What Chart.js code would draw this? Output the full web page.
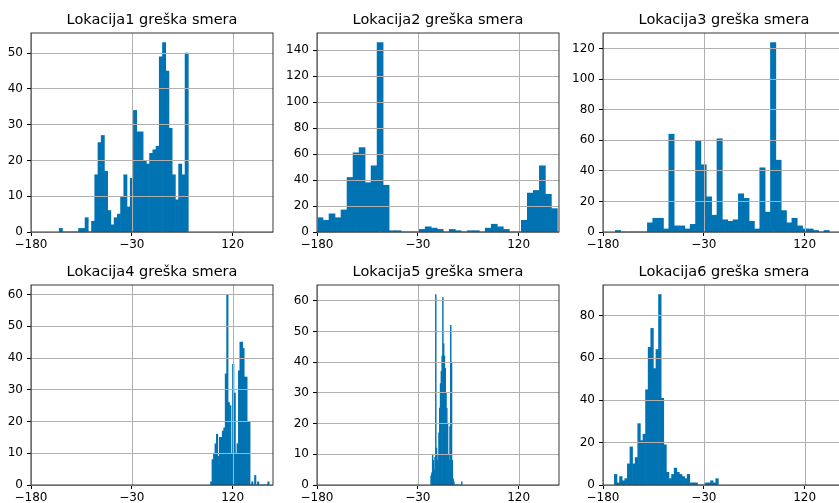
<!DOCTYPE html>
<html>
<head>
<meta charset="utf-8">
<script src="https://cdn.jsdelivr.net/npm/chart.js@4.4.1/dist/chart.umd.min.js"></script>
<style>
  body { margin: 0; width: 839px; height: 503px; overflow: hidden; background: #fff; position: relative; }
  canvas { position: absolute; }
</style>
</head>
<body>
<canvas id="c1" width="304" height="255" style="left:0px;top:0px"></canvas>
<canvas id="c2" width="304" height="255" style="left:286px;top:0px"></canvas>
<canvas id="c3" width="304" height="255" style="left:572px;top:0px"></canvas>
<canvas id="c4" width="304" height="256" style="left:0px;top:252px"></canvas>
<canvas id="c5" width="304" height="256" style="left:286px;top:252px"></canvas>
<canvas id="c6" width="304" height="256" style="left:572px;top:252px"></canvas>
<script>
// histogram counts per location (40 bins each)
const lok1Counts = [1, 0, 0, 0, 0, 0, 1, 1, 4, 0, 3, 16, 25, 27, 17, 6, 2, 4, 5, 10,
                    16, 7, 15, 34, 28, 28, 20, 19, 22, 23, 24, 49, 53, 45, 29, 16, 9, 19, 16, 50];
const lok2Counts = [11, 9, 14, 11, 17, 42, 61, 65, 38, 51, 146, 36, 1, 1, 0, 0, 0, 2, 4, 3,
                    2, 0, 2, 1, 0, 1, 1, 0, 3, 6, 4, 2, 0, 0, 9, 30, 32, 51, 29, 18];
const lok3Counts = [1, 0, 0, 0, 0, 0, 6, 9, 9, 2, 64, 4, 4, 2, 5, 60, 44, 23, 11, 61,
                    8, 7, 8, 25, 22, 7, 2, 42, 13, 124, 47, 14, 6, 9, 4, 2, 2, 1, 0, 1];
const lok4Counts = [1, 8, 10, 13, 16, 9, 15, 15, 17, 18, 35, 60, 26, 25, 10, 38, 29, 10, 13, 36,
                    45, 45, 43, 34, 34, 20, 20, 0, 1, 0, 3, 0, 1, 0, 0, 0, 0, 0, 0, 1];
const lok5Counts = [3, 4, 10, 8, 5, 9, 62, 12, 8, 10, 17, 25, 33, 37, 42, 61, 46, 42, 38, 30,
                    25, 20, 10, 8, 19, 52, 40, 8, 2, 1, 0, 0, 0, 0, 0, 0, 0, 0, 0, 1];
const lok6Counts = [5, 1, 4, 2, 3, 10, 18, 10, 13, 29, 21, 24, 45, 65, 74, 55, 64, 90, 41, 19,
                    6, 3, 5, 8, 6, 5, 4, 3, 5, 1, 1, 1, 0, 0, 0, 1, 1, 2, 1, 3];

// data range (min, max) each histogram was binned over
const lok1Range = [-138, 54];
const lok2Range = [-180, 177.6];
const lok3Range = [-161.7, 156.7];
const lok4Range = [87, 174.3];
const lok5Range = [-10.9, 36];
const lok6Range = [-163.1, -8.4];

const titles = ['Lokacija1 greška smera', 'Lokacija2 greška smera', 'Lokacija3 greška smera',
                'Lokacija4 greška smera', 'Lokacija5 greška smera', 'Lokacija6 greška smera'];

const xTicks = [-180, -30, 120];
const yTicks1 = [0, 10, 20, 30, 40, 50];
const yTicks2 = [0, 20, 40, 60, 80, 100, 120, 140];
const yTicks3 = [0, 20, 40, 60, 80, 100, 120];
const yTicks4 = [0, 10, 20, 30, 40, 50, 60];
const yTicks5 = [0, 10, 20, 30, 40, 50, 60];
const yTicks6 = [0, 20, 40, 60, 80];

const BAR_COLOR = '#0173B2';
const GRID = '#b0b0b0';

Chart.defaults.font.family = "'DejaVu Sans', sans-serif";

// matplotlib style minus sign
const fmt = v => String(v).replace('-', '\u2212');

// vertical grid lines at the x ticks (above the bars), then the box around the axes
const frame = {
  id: 'frame',
  afterDatasetsDraw(chart) {
    const a = chart.chartArea, c = chart.ctx, xs = chart.scales.x;
    c.save();
    c.strokeStyle = GRID;
    c.lineWidth = 1;
    xs.ticks.forEach(t => {
      const px = Math.round(xs.getPixelForValue(t.value)) + 0.5;
      c.beginPath();
      c.moveTo(px, a.top);
      c.lineTo(px, a.bottom);
      c.stroke();
    });
    c.restore();
  },
  afterDraw(chart) {
    const a = chart.chartArea, c = chart.ctx;
    c.save();
    c.strokeStyle = '#222';
    c.lineWidth = 0.9;
    c.strokeRect(a.left, a.top, a.right - a.left, a.bottom - a.top);
    c.restore();
  }
};

function makeHist(id, title, counts, range, yTicks) {
  const w = (range[1] - range[0]) / counts.length;
  const points = counts.map((c, i) => ({ x: range[0] + w * (i + 0.5), y: c }));
  const ymax = Math.max(...counts) * 1.05;

  new Chart(document.getElementById(id), {
    type: 'bar',
    data: {
      datasets: [{
        data: points,
        backgroundColor: BAR_COLOR,
        borderWidth: 0,
        barPercentage: 1,
        categoryPercentage: 1
      }]
    },
    options: {
      responsive: false,
      animation: false,
      layout: { padding: { left: 0, right: 0, top: 0, bottom: 3 } },
      plugins: {
        legend: { display: false },
        tooltip: { enabled: false },
        title: {
          display: true,
          text: title,
          color: '#000',
          font: { size: 14.5, weight: 'normal' },
          padding: { top: 12, bottom: 3.6 }
        }
      },
      scales: {
        x: {
          type: 'linear',
          min: -180,
          max: 180,
          offset: false,
          afterBuildTicks: s => { s.ticks = xTicks.map(v => ({ value: v })); },
          afterFit: s => { s.height = 20; },
          grid: { z: 1, offset: false, drawOnChartArea: false, color: GRID, lineWidth: 1, tickLength: 4, tickColor: '#000' },
          border: { display: false },
          ticks: { autoSkip: false, maxRotation: 0, padding: 2, color: '#000', font: { size: 12 }, callback: fmt }
        },
        y: {
          type: 'linear',
          min: 0,
          max: ymax,
          afterBuildTicks: s => { s.ticks = yTicks.map(v => ({ value: v })); },
          afterFit: s => { s.width = 31; },
          grid: { z: 1, color: GRID, lineWidth: 1, tickLength: 4, tickColor: '#000' },
          border: { display: false },
          ticks: { padding: 4, color: '#000', font: { size: 12 }, callback: fmt }
        },
        // empty right axis so the title centres over the plot area
        y2: {
          type: 'linear',
          position: 'right',
          afterFit: s => { s.width = 31; },
          grid: { display: false },
          border: { display: false },
          ticks: { display: false }
        }
      }
    },
    plugins: [frame]
  });
}

makeHist('c1', titles[0], lok1Counts, lok1Range, yTicks1);
makeHist('c2', titles[1], lok2Counts, lok2Range, yTicks2);
makeHist('c3', titles[2], lok3Counts, lok3Range, yTicks3);
makeHist('c4', titles[3], lok4Counts, lok4Range, yTicks4);
makeHist('c5', titles[4], lok5Counts, lok5Range, yTicks5);
makeHist('c6', titles[5], lok6Counts, lok6Range, yTicks6);
</script>
</body>
</html>
